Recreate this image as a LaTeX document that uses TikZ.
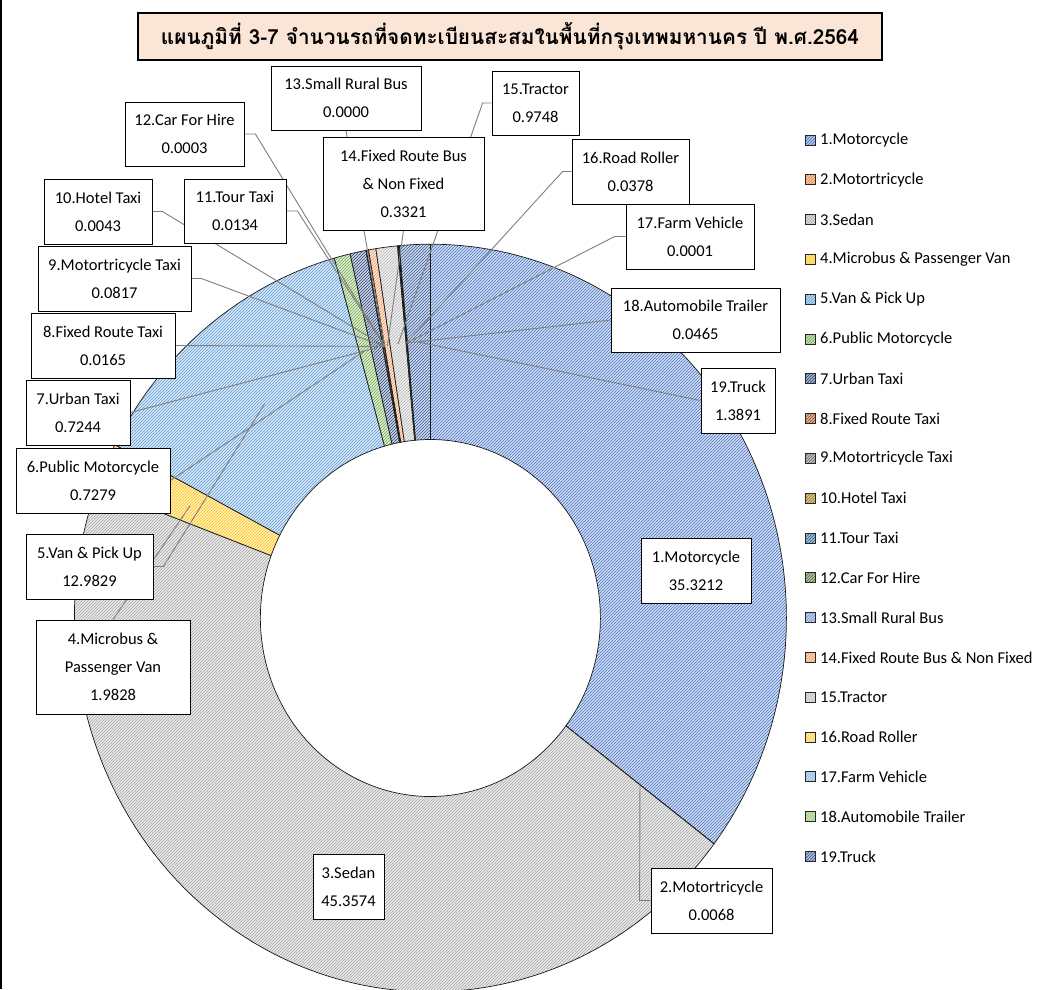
\documentclass[tikz,border=0pt]{standalone}
\usepackage{fontspec}
\setmainfont{Carlito}
\newfontfamily\thaifont[Script=Thai]{Loma}
\usetikzlibrary{patterns}
\pgfdeclarepatternformonly{nelines}{\pgfqpoint{-1pt}{-1pt}}{\pgfqpoint{4pt}{4pt}}{\pgfqpoint{3pt}{3pt}}{%
  \pgfsetlinewidth{0.55pt}%
  \pgfpathmoveto{\pgfqpoint{0pt}{0pt}}%
  \pgfpathlineto{\pgfqpoint{3.1pt}{3.1pt}}%
  \pgfusepath{stroke}}
\definecolor{c1}{HTML}{4472C4}
\definecolor{c2}{HTML}{ED7D31}
\definecolor{c3}{HTML}{A5A5A5}
\definecolor{c4}{HTML}{FFC000}
\definecolor{c5}{HTML}{5B9BD5}
\definecolor{c6}{HTML}{70AD47}
\definecolor{c7}{HTML}{264478}
\definecolor{c8}{HTML}{9E480E}
\definecolor{c9}{HTML}{636363}
\definecolor{c10}{HTML}{997300}
\definecolor{c11}{HTML}{255E91}
\definecolor{c12}{HTML}{43682B}
\definecolor{c13}{HTML}{698ED0}
\definecolor{c14}{HTML}{F1975A}
\definecolor{c15}{HTML}{B7B7B7}
\definecolor{c16}{HTML}{FFCD33}
\definecolor{c17}{HTML}{7CAFDD}
\definecolor{c18}{HTML}{8CC168}
\definecolor{c19}{HTML}{335AA1}
\definecolor{titlefill}{HTML}{FBE5D6}
\definecolor{leadgray}{HTML}{7F7F7F}
\newcommand\donutslice[3]{%
  \path[preaction={fill=#3!22!white}, pattern=nelines, pattern color=#3, draw=black!90, line width=0.7pt, line join=round]
    (#1:356) arc[start angle=#1, end angle=#2, radius=356] -- (#2:170)
    arc[start angle=#2, end angle=#1, radius=170] -- cycle;}
\tikzset{
  lbl/.style={draw=black, fill=white, line width=0.8pt, inner sep=0pt, align=center,
    font=\fontsize{16.5}{28}\selectfont},
  leader/.style={draw=leadgray, line width=0.9pt},
  legsq/.style={draw=black!85, line width=0.8pt, inner sep=0pt, minimum size=10pt},
  legtxt/.style={anchor=west, inner sep=0pt, font=\fontsize{16.5}{20}\selectfont}
}
\begin{document}
\begin{tikzpicture}[x=1pt, y=-1pt]
\useasboundingbox (0,0) rectangle (1044,989);
\fill[white] (0,0) rectangle (1044,989);
\draw[black, line width=1.5pt] (1,0) -- (1,989);

% title
\node[draw=black, line width=2.5pt, fill=titlefill, minimum width=744pt, minimum height=47pt, inner sep=0pt]
  (title) at (510,36.5) {\resizebox{698pt}{!}{\thaifont\bfseries แผนภูมิที่ 3-7 จำนวนรถที่จดทะเบียนสะสมในพื้นที่กรุงเทพมหานคร ปี พ.ศ.2564}};

% donut
\begin{scope}[shift={(430.4,618)}, yscale=-1.05]
  \donutslice{90}{-37.156}{c1}
  \donutslice{-37.156}{-37.181}{c2}
  \donutslice{-37.181}{-200.467}{c3}
  \donutslice{-200.467}{-207.606}{c4}
  \donutslice{-207.606}{-254.344}{c5}
  \donutslice{-254.344}{-256.964}{c6}
  \donutslice{-256.964}{-259.572}{c7}
  \donutslice{-259.572}{-259.632}{c8}
  \donutslice{-259.632}{-259.926}{c9}
  \donutslice{-259.926}{-259.941}{c10}
  \donutslice{-259.941}{-259.989}{c11}
  \donutslice{-259.989}{-259.991}{c12}
  \donutslice{-259.991}{-259.9915}{c13}
  \donutslice{-259.9915}{-261.186}{c14}
  \donutslice{-261.186}{-264.695}{c15}
  \donutslice{-264.695}{-264.831}{c16}
  \donutslice{-264.831}{-264.832}{c17}
  \donutslice{-264.832}{-264.999}{c18}
  \donutslice{-264.999}{-270}{c19}
  \coordinate (t2) at (-37.17:263);
  \coordinate (t4) at (-204.04:263);
  \coordinate (t5) at (-230.975:263);
  \coordinate (t6) at (-255.654:263);
  \coordinate (t7) at (-258.268:263);
  \coordinate (t8) at (-259.602:263);
  \coordinate (t9) at (-259.779:263);
  \coordinate (t10) at (-259.934:263);
  \coordinate (t11) at (-259.965:263);
  \coordinate (t12) at (-259.99:263);
  \coordinate (t13) at (-259.991:263);
  \coordinate (t14) at (-260.589:263);
  \coordinate (t15) at (-262.94:263);
  \coordinate (t16) at (-264.763:263);
  \coordinate (t17) at (-264.8315:263);
  \coordinate (t18) at (-264.9155:263);
  \coordinate (t19) at (-267.4995:263);
\end{scope}

% label boxes (positions only, drawn later)
\path
  (346,98)      node[lbl, minimum width=150pt, minimum height=64pt, opacity=0] (n13) {}
  (535.5,103)   node[lbl, minimum width=87pt,  minimum height=64pt, opacity=0] (n15) {}
  (184.5,134)   node[lbl, minimum width=119pt, minimum height=64pt, opacity=0] (n12) {}
  (403.5,183.5) node[lbl, minimum width=161pt, minimum height=93pt, opacity=0] (n14) {}
  (630.5,171.5) node[lbl, minimum width=117pt, minimum height=65pt, opacity=0] (n16) {}
  (98,211.5)    node[lbl, minimum width=108pt, minimum height=65pt, opacity=0] (n10) {}
  (235,211)     node[lbl, minimum width=102pt, minimum height=64pt, opacity=0] (n11) {}
  (690,236.5)   node[lbl, minimum width=128pt, minimum height=65pt, opacity=0] (n17) {}
  (114.5,278.5) node[lbl, minimum width=153pt, minimum height=65pt, opacity=0] (n9) {}
  (695.5,320)   node[lbl, minimum width=169pt, minimum height=64pt, opacity=0] (n18) {}
  (103,345.5)   node[lbl, minimum width=144pt, minimum height=65pt, opacity=0] (n8) {}
  (738,400.5)   node[lbl, minimum width=74pt,  minimum height=65pt, opacity=0] (n19) {}
  (78,412.5)    node[lbl, minimum width=104pt, minimum height=65pt, opacity=0] (n7) {}
  (93,480.5)    node[lbl, minimum width=154pt, minimum height=65pt, opacity=0] (n6) {}
  (89.5,566.5)  node[lbl, minimum width=127pt, minimum height=65pt, opacity=0] (n5) {}
  (113,667)     node[lbl, minimum width=154pt, minimum height=94pt, opacity=0] (n4) {}
  (711.5,900.5) node[lbl, minimum width=121pt, minimum height=65pt, opacity=0] (n2) {};

% leader lines
\draw[leader] (n12.east) -- ++(11,0) -- (t12);
\draw[leader] (n10.east) -- ++(10,0) -- (t10);
\draw[leader] (n11.east) -- ++(11,0) -- (t11);
\draw[leader] (n9.east) -- ++(10,0) -- (t9);
\draw[leader] (n8.east) -- (t8);
\draw[leader] (n7.east) -- (t7);
\draw[leader] (n6.east) -- (t6);
\draw[leader] (n5.east) -- ++(10,0) -- (t5);
\draw[leader] (n4.north) -- (t4);
\draw[leader] (n13.south) -- (t13);
\draw[leader] (n14.south) -- (t14);
\draw[leader] (n15.west) -- ++(-9,0) -- (t15);
\draw[leader] (n16.west) -- ++(-9,0) -- (t16);
\draw[leader] (n17.west) -- ++(-11,0) -- (t17);
\draw[leader] (n18.west) -- (t18);
\draw[leader] (n19.west) -- (t19);
\draw[leader] (n2.west) -- ++(-11,0) -- (t2);

% visible label boxes
\node[lbl, minimum width=150pt, minimum height=64pt] (b13) at (n13) {13.Small Rural Bus\\0.0000};
\node[lbl, minimum width=87pt,  minimum height=64pt] (b15) at (n15) {15.Tractor\\0.9748};
\node[lbl, minimum width=119pt, minimum height=64pt] (b12) at (n12) {12.Car For Hire\\0.0003};
\node[lbl, minimum width=161pt, minimum height=93pt] (b14) at (n14) {14.Fixed Route Bus\\\& Non Fixed\\0.3321};
\node[lbl, minimum width=117pt, minimum height=65pt] (b16) at (n16) {16.Road Roller\\0.0378};
\node[lbl, minimum width=108pt, minimum height=65pt] (b10) at (n10) {10.Hotel Taxi\\0.0043};
\node[lbl, minimum width=102pt, minimum height=64pt] (b11) at (n11) {11.Tour Taxi\\0.0134};
\node[lbl, minimum width=128pt, minimum height=65pt] (b17) at (n17) {17.Farm Vehicle\\0.0001};
\node[lbl, minimum width=153pt, minimum height=65pt] (b9) at (n9) {9.Motortricycle Taxi\\0.0817};
\node[lbl, minimum width=169pt, minimum height=64pt] (b18) at (n18) {18.Automobile Trailer\\0.0465};
\node[lbl, minimum width=144pt, minimum height=65pt] (b8) at (n8) {8.Fixed Route Taxi\\0.0165};
\node[lbl, minimum width=74pt,  minimum height=65pt] (b19) at (n19) {19.Truck\\1.3891};
\node[lbl, minimum width=104pt, minimum height=65pt] (b7) at (n7) {7.Urban Taxi\\0.7244};
\node[lbl, minimum width=154pt, minimum height=65pt] (b6) at (n6) {6.Public Motorcycle\\0.7279};
\node[lbl, minimum width=127pt, minimum height=65pt] (b5) at (n5) {5.Van \& Pick Up\\12.9829};
\node[lbl, minimum width=154pt, minimum height=94pt] (b4) at (n4) {4.Microbus \&\\Passenger Van\\1.9828};
\node[lbl, minimum width=121pt, minimum height=65pt] (b2) at (n2) {2.Motortricycle\\0.0068};
\node[lbl, minimum width=110pt, minimum height=65pt] (b1) at (696,570.5) {1.Motorcycle\\35.3212};
\node[lbl, minimum width=71pt,  minimum height=65pt] (b3) at (348.5,886.5) {3.Sedan\\45.3574};

% legend
\foreach \i/\nm in {1/1.Motorcycle, 2/2.Motortricycle, 3/3.Sedan, 4/4.Microbus \& Passenger Van,
  5/5.Van \& Pick Up, 6/6.Public Motorcycle, 7/7.Urban Taxi, 8/8.Fixed Route Taxi,
  9/9.Motortricycle Taxi, 10/10.Hotel Taxi, 11/11.Tour Taxi, 12/12.Car For Hire,
  13/13.Small Rural Bus, 14/14.Fixed Route Bus \& Non Fixed, 15/15.Tractor,
  16/16.Road Roller, 17/17.Farm Vehicle, 18/18.Automobile Trailer, 19/19.Truck} {
  \node[legsq, preaction={fill=c\i!40!white}, pattern=nelines, pattern color=c\i]
    (sq\i) at (810, {140+(\i-1)*39.8}) {};
  \node[legtxt] (lg\i) at (820, {140+(\i-1)*39.8}) {\nm};
}
\end{tikzpicture}
\end{document}
